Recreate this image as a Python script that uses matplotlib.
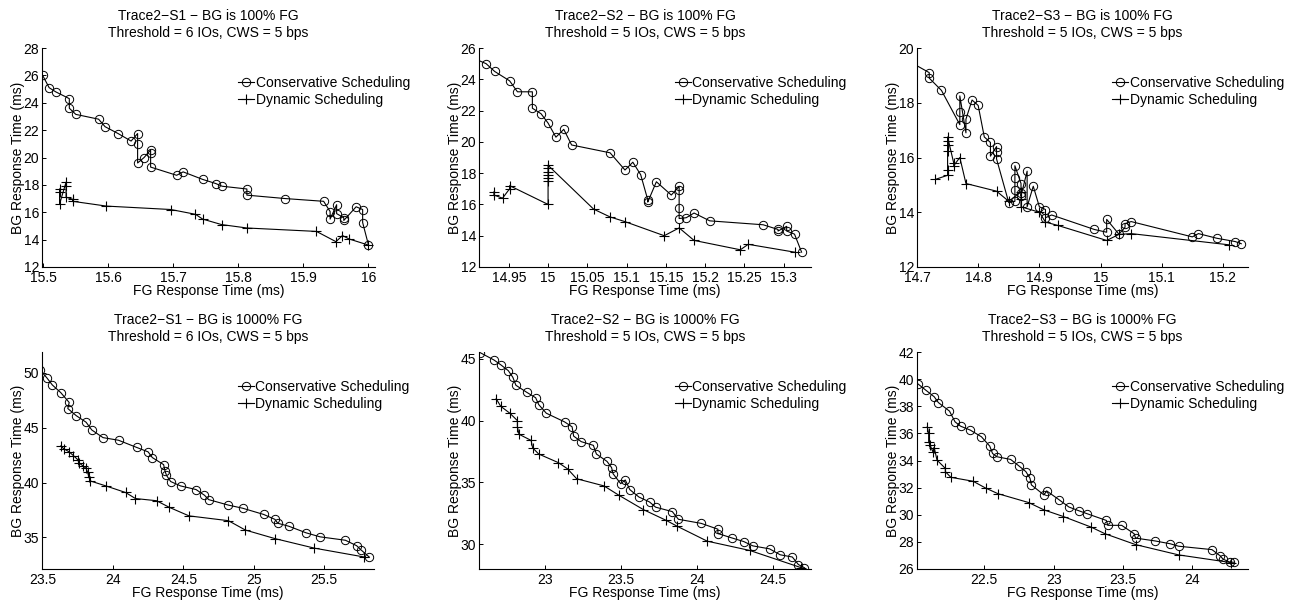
import matplotlib
matplotlib.use('Agg')
import matplotlib.pyplot as plt
from matplotlib import ticker

plt.rcParams['font.family'] = ['Liberation Sans', 'DejaVu Sans']
plt.rcParams['font.size'] = 10

# ---- data (FG response time, BG response time) ----

# Trace2-S1, BG is 100% FG
s1a_cons_x = [15.499, 15.509, 15.519, 15.54, 15.54, 15.55, 15.585, 15.595, 15.615, 15.635,
              15.645, 15.645, 15.645, 15.655, 15.665, 15.665, 15.665, 15.705, 15.715, 15.745,
              15.765, 15.775, 15.813, 15.813, 15.872, 15.931, 15.941, 15.941, 15.951, 15.951,
              15.962, 15.962, 15.981, 15.991, 15.991, 16.0]
s1a_cons_y = [26.0, 25.1, 24.8, 24.3, 23.6, 23.15, 22.8, 22.25, 21.75, 21.2,
              21.75, 20.95, 19.6, 20.0, 20.55, 20.35, 19.3, 18.7, 18.95, 18.4,
              18.1, 17.9, 17.7, 17.25, 17.0, 16.8, 16.05, 15.5, 16.55, 15.9,
              15.6, 15.4, 16.4, 16.2, 15.25, 13.6]
s1a_dyn_x = [15.525, 15.525, 15.525, 15.535, 15.535, 15.535, 15.545, 15.545, 15.597, 15.696,
             15.734, 15.745, 15.774, 15.813, 15.92, 15.95, 15.96, 15.97, 16.0]
s1a_dyn_y = [17.7, 17.45, 16.6, 18.2, 17.9, 17.1, 16.95, 16.8, 16.45, 16.2,
             15.85, 15.5, 15.1, 14.85, 14.6, 13.85, 14.3, 14.05, 13.6]

# Trace2-S2, BG is 100% FG
s2a_cons_x = [14.90, 14.921, 14.932, 14.951, 14.961, 14.98, 14.98, 14.991, 15.0, 15.01,
              15.02, 15.03, 15.079, 15.098, 15.108, 15.118, 15.127, 15.127, 15.138, 15.157,
              15.167, 15.167, 15.167, 15.167, 15.176, 15.186, 15.206, 15.274, 15.293, 15.293,
              15.304, 15.304, 15.314, 15.323]
s2a_cons_y = [25.45, 25.0, 24.5, 23.9, 23.2, 23.2, 22.15, 21.8, 21.2, 20.3,
              20.8, 19.8, 19.3, 18.2, 18.7, 17.9, 16.3, 16.15, 17.45, 16.6,
              17.15, 16.95, 15.8, 15.1, 15.15, 15.45, 14.95, 14.7, 14.4, 14.3,
              14.6, 14.3, 14.1, 12.95]
s2a_dyn_x = [14.931, 14.931, 14.942, 14.951, 14.951, 15.0, 15.0, 15.0, 15.0, 15.0,
             15.0, 15.0, 15.058, 15.079, 15.098, 15.148, 15.167, 15.186, 15.245, 15.255,
             15.314]
s2a_dyn_y = [16.8, 16.6, 16.4, 17.0, 17.2, 16.0, 17.5, 17.7, 17.9, 18.1,
             18.3, 18.5, 15.7, 15.2, 14.9, 14.0, 14.5, 13.7, 13.1, 13.45,
             12.95]

# Trace2-S3, BG is 100% FG
s3a_cons_x = [14.68, 14.72, 14.72, 14.74, 14.77, 14.77, 14.77, 14.78, 14.78, 14.79,
              14.80, 14.81, 14.82, 14.82, 14.83, 14.83, 14.83, 14.85, 14.86, 14.86,
              14.86, 14.86, 14.87, 14.87, 14.87, 14.88, 14.88, 14.89, 14.90, 14.91,
              14.91, 14.92, 14.99, 15.01, 15.01, 15.03, 15.04, 15.04, 15.05, 15.15,
              15.16, 15.19, 15.22, 15.23]
s3a_cons_y = [19.6, 19.1, 18.9, 18.45, 17.2, 17.65, 18.25, 16.9, 17.4, 18.1,
              17.9, 16.75, 16.55, 16.05, 16.4, 16.2, 15.95, 14.35, 14.4, 14.8,
              15.25, 15.7, 15.05, 14.7, 14.6, 15.5, 14.2, 14.95, 14.2, 14.1,
              13.8, 13.9, 13.37, 13.27, 13.74, 13.2, 13.45, 13.58, 13.66, 13.1,
              13.22, 13.05, 12.93, 12.85]
s3a_dyn_x = [14.73, 14.75, 14.75, 14.75, 14.75, 14.75, 14.75, 14.76, 14.76, 14.77,
             14.78, 14.83, 14.85, 14.87, 14.87, 14.87, 14.90, 14.91, 14.93, 15.01,
             15.03, 15.05, 15.21]
s3a_dyn_y = [15.2, 15.35, 15.55, 16.25, 16.45, 16.6, 16.75, 15.8, 15.7, 16.0,
             15.05, 14.77, 14.4, 14.75, 14.5, 14.2, 14.0, 13.64, 13.52, 12.97,
             13.19, 13.22, 12.81]

# Trace2-S1, BG is 1000% FG
s1b_cons_x = [23.48, 23.53, 23.57, 23.63, 23.69, 23.68, 23.74, 23.81, 23.85, 23.93,
              24.04, 24.17, 24.25, 24.28, 24.36, 24.37, 24.38, 24.41, 24.48, 24.59,
              24.65, 24.68, 24.82, 24.92, 25.07, 25.15, 25.17, 25.25, 25.37, 25.47,
              25.65, 25.73, 25.76, 25.82]
s1b_cons_y = [50.3, 49.57, 48.9, 48.2, 47.3, 46.75, 46.1, 45.5, 44.8, 44.1,
              43.86, 43.2, 42.8, 42.28, 41.64, 41.06, 40.67, 40.1, 39.7, 39.37,
              38.85, 38.45, 37.95, 37.67, 37.1, 36.65, 36.3, 36.02, 35.43, 35.06,
              34.75, 34.25, 33.88, 33.21]
s1b_dyn_x = [23.63, 23.65, 23.69, 23.72, 23.75, 23.76, 23.79, 23.81, 23.82, 23.83,
             23.84, 23.95, 24.09, 24.16, 24.31, 24.40, 24.54, 24.82, 24.94, 25.15,
             25.43, 25.78]
s1b_dyn_y = [43.34, 43.1, 42.8, 42.46, 42.1, 41.8, 41.5, 41.3, 40.97, 40.5,
             40.15, 39.7, 39.1, 38.55, 38.35, 37.75, 36.97, 36.53, 35.68, 34.9,
             34.03, 33.23]

# Trace2-S2, BG is 1000% FG
s2b_cons_x = [22.576, 22.666, 22.712, 22.76, 22.79, 22.81, 22.88, 22.94, 22.96, 23.01,
              23.13, 23.18, 23.19, 23.24, 23.32, 23.34, 23.41, 23.44, 23.45, 23.50,
              23.53, 23.56, 23.62, 23.69, 23.73, 23.84, 23.88, 24.03, 24.14, 24.14,
              24.23, 24.31, 24.37, 24.48, 24.55, 24.63, 24.67, 24.71]
s2b_cons_y = [45.49, 44.9, 44.5, 44.04, 43.5, 42.86, 42.3, 41.85, 41.3, 40.6,
              39.9, 39.5, 38.75, 38.3, 38.0, 37.3, 36.7, 36.2, 35.7, 34.9,
              35.2, 34.42, 33.82, 33.42, 33.0, 32.64, 32.02, 31.69, 31.22, 30.87,
              30.52, 30.22, 29.87, 29.63, 29.15, 28.97, 28.36, 28.1]
s2b_dyn_x = [22.68, 22.71, 22.77, 22.82, 22.82, 22.83, 22.91, 22.92, 22.96, 23.09,
             23.15, 23.21, 23.39, 23.49, 23.65, 23.80, 23.87, 24.07, 24.35, 24.69]
s2b_dyn_y = [41.77, 41.16, 40.6, 40.0, 39.5, 38.9, 38.4, 37.8, 37.3, 36.6,
             36.1, 35.3, 34.72, 33.95, 32.8, 31.93, 31.47, 30.25, 29.5, 28.1]

# Trace2-S3, BG is 1000% FG
s3b_cons_x = [22.02, 22.08, 22.14, 22.17, 22.25, 22.29, 22.33, 22.40, 22.48, 22.54,
              22.56, 22.59, 22.69, 22.75, 22.80, 22.83, 22.84, 22.93, 22.95, 23.04,
              23.11, 23.18, 23.24, 23.38, 23.39, 23.49, 23.58, 23.59, 23.73, 23.84,
              23.90, 24.14, 24.20, 24.22, 24.27, 24.30]
s3b_cons_y = [39.67, 39.18, 38.7, 38.27, 37.64, 36.85, 36.53, 36.24, 35.75, 35.06,
              34.52, 34.28, 34.08, 33.6, 33.18, 32.69, 32.2, 31.46, 31.76, 31.1,
              30.57, 30.3, 30.08, 29.58, 29.22, 29.22, 28.6, 28.28, 28.07, 27.86,
              27.68, 27.43, 26.97, 26.73, 26.5, 26.5]
s3b_dyn_x = [22.09, 22.10, 22.10, 22.11, 22.13, 22.14, 22.16, 22.22, 22.22, 22.26,
             22.42, 22.51, 22.60, 22.82, 22.93, 23.07, 23.27, 23.37, 23.59, 23.90,
             24.28]
s3b_dyn_y = [36.49, 36.0, 35.4, 35.14, 34.65, 34.95, 34.03, 33.42, 33.18, 32.76,
             32.47, 31.97, 31.55, 30.9, 30.36, 29.87, 29.09, 28.6, 27.8, 27.04,
             26.47]

titles = [
    'Trace2\u2212S1 \u2212 BG is 100% FG\nThreshold = 6 IOs, CWS = 5 bps',
    'Trace2\u2212S2 \u2212 BG is 100% FG\nThreshold = 5 IOs, CWS = 5 bps',
    'Trace2\u2212S3 \u2212 BG is 100% FG\nThreshold = 5 IOs, CWS = 5 bps',
    'Trace2\u2212S1 \u2212 BG is 1000% FG\nThreshold = 6 IOs, CWS = 5 bps',
    'Trace2\u2212S2 \u2212 BG is 1000% FG\nThreshold = 5 IOs, CWS = 5 bps',
    'Trace2\u2212S3 \u2212 BG is 1000% FG\nThreshold = 5 IOs, CWS = 5 bps',
]

# axis ranges and tick values
xlims = [(15.498, 16.01), (14.912, 15.335), (14.70, 15.241),
         (23.497, 25.853), (22.567, 24.753), (22.016, 24.40)]
ylims = [(12, 28), (12, 26), (12, 20), (32.13, 51.9), (28.0, 45.55), (26, 42)]
xticks = [[15.5, 15.6, 15.7, 15.8, 15.9, 16],
          [14.95, 15, 15.05, 15.1, 15.15, 15.2, 15.25, 15.3],
          [14.7, 14.8, 14.9, 15, 15.1, 15.2],
          [23.5, 24, 24.5, 25, 25.5],
          [23, 23.5, 24, 24.5],
          [22.5, 23, 23.5, 24]]
yticks = [list(range(12, 29, 2)), list(range(12, 27, 2)), list(range(12, 21, 2)),
          [35, 40, 45, 50], [30, 35, 40, 45], list(range(26, 43, 2))]

cons = [(s1a_cons_x, s1a_cons_y), (s2a_cons_x, s2a_cons_y), (s3a_cons_x, s3a_cons_y),
        (s1b_cons_x, s1b_cons_y), (s2b_cons_x, s2b_cons_y), (s3b_cons_x, s3b_cons_y)]
dyn = [(s1a_dyn_x, s1a_dyn_y), (s2a_dyn_x, s2a_dyn_y), (s3a_dyn_x, s3a_dyn_y),
       (s1b_dyn_x, s1b_dyn_y), (s2b_dyn_x, s2b_dyn_y), (s3b_dyn_x, s3b_dyn_y)]

W, H = 1292, 604
fig = plt.figure(figsize=(W / 100, H / 100), dpi=100)

# axes boxes in pixels: left, top, right, bottom
boxes = [(42, 48, 375, 267), (479, 48, 811, 267), (917, 48, 1248, 267),
         (42, 352, 374, 569), (479, 352, 811, 569), (917, 352, 1248, 569)]

fmt = ticker.FuncFormatter(lambda v, pos: '%g' % round(v, 6))

for i in range(6):
    l, t, r, b = boxes[i]
    ax = fig.add_axes([l / W, 1 - b / H, (r - l) / W, (b - t) / H])

    cx, cy = cons[i]
    dx, dy = dyn[i]
    ax.plot(cx, cy, color='k', lw=0.8, marker='o', ms=6, mfc='none', mew=0.7,
            label='Conservative Scheduling')
    ax.plot(dx, dy, color='k', lw=0.8, marker='+', ms=6.5, mew=0.8,
            label='Dynamic Scheduling')

    ax.set_xlim(xlims[i])
    ax.set_ylim(ylims[i])
    ax.set_xticks(xticks[i])
    ax.set_yticks(yticks[i])
    ax.xaxis.set_major_formatter(fmt)
    ax.yaxis.set_major_formatter(fmt)

    # matlab look: box off, ticks pointing in
    ax.spines['top'].set_visible(False)
    ax.spines['right'].set_visible(False)
    for s in ('left', 'bottom'):
        ax.spines[s].set_linewidth(0.8)
    ax.tick_params(direction='in', length=3, width=0.7, labelsize=10)
    ax.tick_params(axis='x', pad=3)
    ax.tick_params(axis='y', pad=2)

    ax.set_xlabel('FG Response Time (ms)', fontsize=10, labelpad=-1)
    ax.set_ylabel('BG Response Time (ms)', fontsize=10, labelpad=-1)
    ax.set_title(titles[i], fontsize=10, pad=8, linespacing=1.25)

    ax.legend(loc='upper left', bbox_to_anchor=(0.59, 0.871), frameon=False,
              fontsize=10, handlelength=1.15, handletextpad=0.1,
              labelspacing=0.2, borderpad=0, borderaxespad=0, numpoints=1)

plt.savefig('out.png', dpi=100)
